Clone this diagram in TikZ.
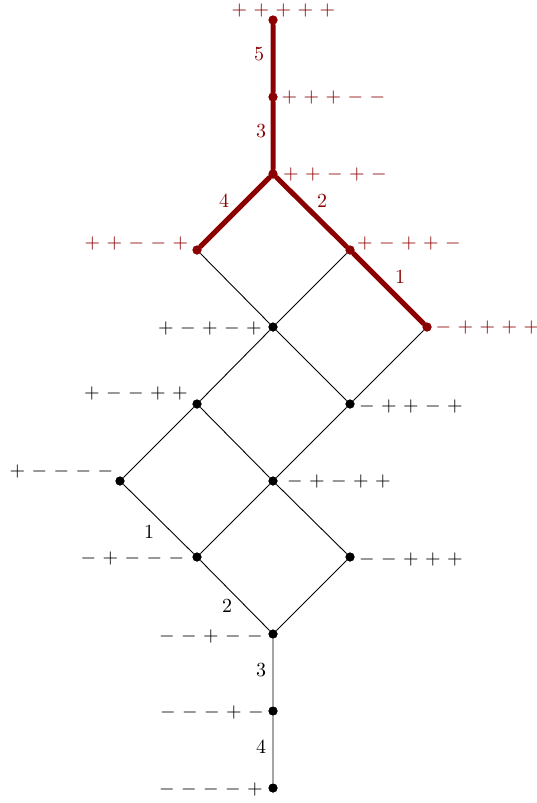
\documentclass[tikz,border=0pt]{standalone}
\definecolor{dred}{RGB}{139,0,0}
\newcommand\sgs[5]{\makebox[11pt]{$#1$}\makebox[11pt]{$#2$}\makebox[11pt]{$#3$}\makebox[11pt]{$#4$}\makebox[11pt]{$#5$}}
\begin{document}
\begin{tikzpicture}[x=0.5pt,y=-0.5pt,
  dot/.style={circle,fill=black,inner sep=0pt,minimum size=4.5pt},
  rdot/.style={circle,fill=dred,inner sep=0pt,minimum size=4.5pt},
  lab/.style={inner sep=0pt,font=\normalsize},
  rlab/.style={lab,text=dred},
  thinedge/.style={draw=black,line width=0.45pt},
  redge/.style={draw=dred,line width=2.5pt}]
\useasboundingbox (0,0) rectangle (536,803);
% vertices
\node[rdot] (p1) at (273,20) {};
\node[rdot] (p2) at (273,97) {};
\node[rdot] (p3) at (273,174) {};
\node[rdot] (p4) at (197,250) {};
\node[rdot] (p5) at (350,250) {};
\node[rdot] (p6) at (427,327) {};
\node[dot] (q1) at (273,327) {};
\node[dot] (q2) at (197,404) {};
\node[dot] (q3) at (350,404) {};
\node[dot] (q4) at (120,481) {};
\node[dot] (q5) at (273,481) {};
\node[dot] (q6) at (197,557) {};
\node[dot] (q7) at (350,557) {};
\node[dot] (q8) at (273,634) {};
\node[dot] (q9) at (273,711) {};
\node[dot] (q10) at (273,788) {};
% black edges
\begin{scope}[on background layer/.style={}]
\path[thinedge] (p4) -- (q1) (p5) -- (q1) (p6) -- (q3)
  (q1) -- (q2) (q1) -- (q3) (q2) -- (q4) (q2) -- (q5) (q3) -- (q5)
  (q4) -- (q6) (q5) -- (q6) (q5) -- (q7) (q6) -- (q8) (q7) -- (q8)
  (q8) -- (q9) (q9) -- (q10);
\end{scope}
% red edges
\path[redge,line cap=round] (p1) -- (p2) (p2) -- (p3) (p3) -- (p4) (p3) -- (p5) (p5) -- (p6);
% redraw dots on top
\foreach \n in {p1,p2,p3,p4,p5,p6}{\fill[dred] (\n) circle (2.25pt);}
\foreach \n in {q1,q2,q3,q4,q5,q6,q7,q8,q9,q10}{\fill[black] (\n) circle (2.25pt);}
% vertex labels
\node[rlab] (l1) at (283.5,11) {\sgs+++++};
\node[rlab] (l2) at (333.5,97) {\sgs+++--};
\node[rlab] (l3) at (335,174) {\sgs++-+-};
\node[rlab] (l4) at (136.5,243) {\sgs++--+};
\node[rlab] (l5) at (409,243) {\sgs+-++-};
\node[rlab] (l6) at (487.5,327) {\sgs-++++};
\node[lab] (m1) at (210,328) {\sgs+-+-+};
\node[lab] (m2) at (136,393) {\sgs+--++};
\node[lab] (m3) at (411,406) {\sgs-++-+};
\node[lab] (m4) at (61.5,471) {\sgs+----};
\node[lab] (m5) at (339,481) {\sgs-+-++};
\node[lab] (m6) at (132.5,558) {\sgs-+---};
\node[lab] (m7) at (411,559) {\sgs--+++};
\node[lab] (m8) at (211,636) {\sgs--+--};
\node[lab] (m9) at (212,712) {\sgs---+-};
\node[lab] (m10) at (211,789) {\sgs----+};
% edge labels
\node[rlab] (e1) at (259,54) {$5$};
\node[rlab] (e2) at (261,131) {$3$};
\node[rlab] (e3) at (224,201) {$4$};
\node[rlab] (e4) at (322,201) {$2$};
\node[rlab] (e5) at (400,277) {$1$};
\node[lab] (f1) at (149,532) {$1$};
\node[lab] (f2) at (227,606) {$2$};
\node[lab] (f3) at (261,670) {$3$};
\node[lab] (f4) at (261,747) {$4$};
\end{tikzpicture}
\end{document}
